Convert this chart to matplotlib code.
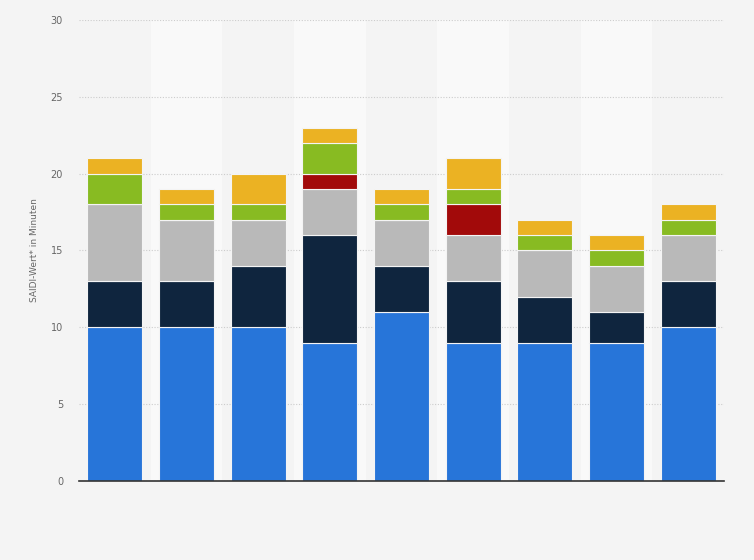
import matplotlib
matplotlib.use("Agg")
import matplotlib.pyplot as plt
import numpy as np

categories = ["1", "2", "3", "4", "5", "6", "7", "8", "9"]
s_blue   = [10, 10, 10, 9, 11, 9, 9, 9, 10]
s_navy   = [3, 3, 4, 7, 3, 4, 3, 2, 3]
s_gray   = [5, 4, 3, 3, 3, 3, 3, 3, 3]
s_red    = [0, 0, 0, 1, 0, 2, 0, 0, 0]
s_green  = [2, 1, 1, 2, 1, 1, 1, 1, 1]
s_yellow = [1, 1, 2, 1, 1, 2, 1, 1, 1]
yticks = [0, 5, 10, 15, 20, 25, 30]

series = [s_blue, s_navy, s_gray, s_red, s_green, s_yellow]
colors = ["#2775d9", "#0f253e", "#b9b9b9", "#a20a0a", "#88bb22", "#ebb223"]

fig = plt.figure(figsize=(7.54, 5.6), dpi=100, facecolor="#f4f4f4")
ax = fig.add_axes([0.1048, 0.1411, 0.8554, 0.8232])
ax.set_facecolor("#f4f4f4")

x = np.arange(len(categories))
for i in x:
    if i % 2 == 1:
        ax.axvspan(i - 0.5, i + 0.5, color="#f9f9f9", zorder=0, lw=0)

bottom = np.zeros(len(categories))
for vals, c in zip(series, colors):
    v = np.array(vals, dtype=float)
    ax.bar(x, v, bottom=bottom, width=0.77, color=c, edgecolor="#f4f4f4",
           linewidth=0.8, zorder=3)
    bottom += v

ax.set_xlim(-0.5, len(categories) - 0.5)
ax.set_ylim(0, 30)
ax.set_yticks(yticks)
ax.set_yticklabels([str(t) for t in yticks])
ax.set_xticks([])
ax.tick_params(axis="y", length=0, pad=11.5, labelsize=7, labelcolor="#666666")
ax.yaxis.grid(True, linestyle=(0, (1, 1.5)), color="#cccccc", linewidth=0.8, zorder=1)
ax.set_axisbelow(True)
for sp in ["top", "right", "left"]:
    ax.spines[sp].set_visible(False)
ax.spines["bottom"].set_color("#333333")
ax.spines["bottom"].set_linewidth(1.2)
ax.spines["bottom"].set_zorder(4)

ax.set_ylabel("SAIDI-Wert* in Minuten", fontsize=6.5, color="#666666")
ax.yaxis.set_label_coords(-0.062, 0.5)

fig.savefig("out.png", dpi=100, facecolor=fig.get_facecolor())
